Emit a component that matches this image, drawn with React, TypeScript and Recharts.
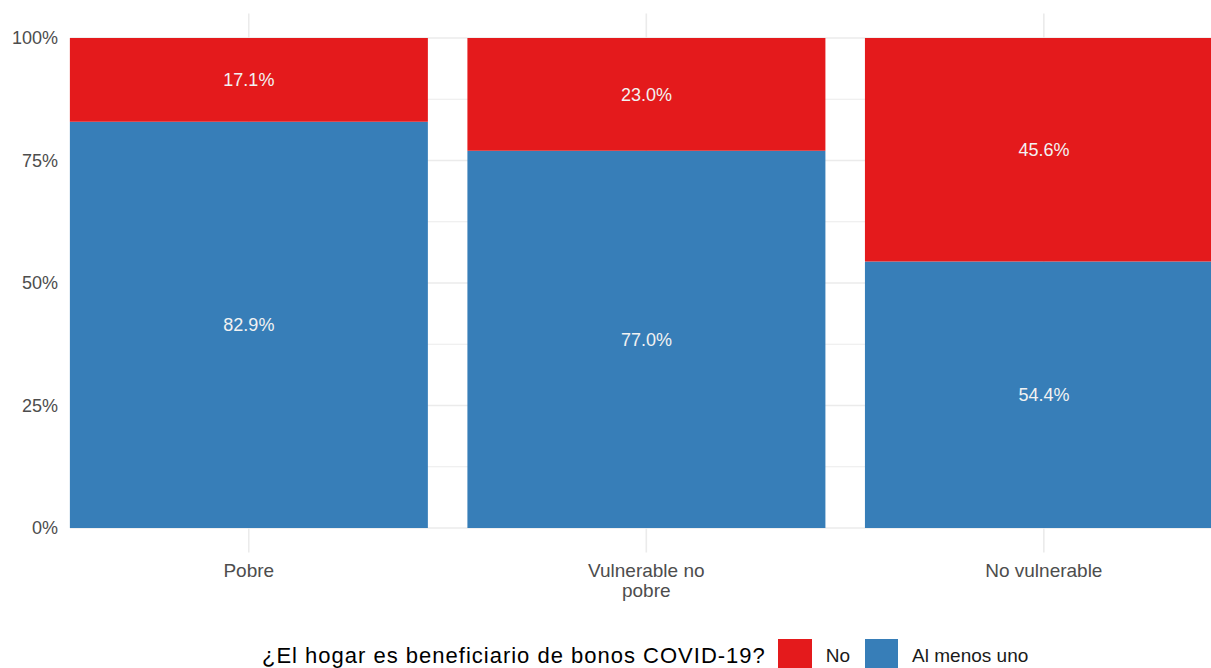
import React from 'react';
import { BarChart, Bar, XAxis, YAxis, CartesianGrid, LabelList, Legend } from 'recharts';

const categories = ['Pobre', 'Vulnerable no\npobre', 'No vulnerable'];
const alMenosUno = [0.829, 0.77, 0.544];
const noValues = [0.171, 0.23, 0.456];
const yTicks = [0, 0.25, 0.5, 0.75, 1];
const minorTicks = [0.125, 0.375, 0.625, 0.875];
const yDomain = [-0.05, 1.05];
const seriesNames = ['No', 'Al menos uno'];
const legendTitle = '¿El hogar es beneficiario de bonos COVID-19?';

const data = categories.map((c, i) => ({ cat: c, uno: alMenosUno[i], no: noValues[i] }));

const FONT = '"Liberation Sans", Arial, Helvetica, sans-serif';
const RED = '#E41A1C';
const BLUE = '#377EB8';
const GRID = '#ebebeb';

const XTick = (props: any) => {
  const { x, y, payload } = props;
  const lines = String(payload.value).split('\n');
  return (
    <text x={x} y={y} textAnchor="middle" fill="#4d4d4d" fontSize={19} fontFamily={FONT}>
      {lines.map((l, i) => (
        <tspan key={i} x={x} dy={i === 0 ? '0.71em' : 20}>
          {l}
        </tspan>
      ))}
    </text>
  );
};

const LegendContent = () => (
  <div style={{ display: 'flex', alignItems: 'center', fontFamily: FONT, height: 34 }}>
    <span style={{ fontSize: 22, letterSpacing: 1, color: '#000', marginRight: 12, whiteSpace: 'nowrap' }}>{legendTitle}</span>
    <span style={{ width: 34, height: 34, background: RED, display: 'inline-block', marginRight: 14 }} />
    <span style={{ fontSize: 19, color: '#1a1a1a', marginRight: 15 }}>{seriesNames[0]}</span>
    <span style={{ width: 33, height: 34, background: BLUE, display: 'inline-block', marginRight: 14 }} />
    <span style={{ fontSize: 19, color: '#1a1a1a', whiteSpace: 'nowrap' }}>{seriesNames[1]}</span>
  </div>
);

const pct = (v: any) => `${(Number(v) * 100).toFixed(1)}%`;

// map a value to pixels with the y axis scale handed over by Recharts
const toPx = (s: any, v: number): number | null => {
  if (!s) return null;
  if (typeof s === 'function') return s(v);
  if (typeof s.map === 'function') return s.map(v);
  if (typeof s.apply === 'function') return s.apply(v);
  return null;
};

const minorCoords = (p: any) => {
  const s = p && p.yAxis ? p.yAxis.scale : null;
  const out = minorTicks.map((t) => toPx(s, t));
  if (out.every((o) => typeof o === 'number' && isFinite(o as number))) return out as number[];
  const off = p.offset;
  return minorTicks.map((t) => off.top + off.height * (1 - (t - yDomain[0]) / (yDomain[1] - yDomain[0])));
};

export default function App() {
  return (
    <div style={{ position: 'absolute', left: 0, top: 0, width: 1211, height: 668, overflow: 'hidden', background: '#fff' }}>
      <BarChart
        width={1211}
        height={668}
        data={data}
        margin={{ top: 13.5, right: 0, bottom: 85.5, left: 0 }}
        barCategoryGap="5%"
      >
        <CartesianGrid stroke={GRID} strokeWidth={1.1} vertical={false} syncWithTicks horizontalCoordinatesGenerator={minorCoords} />
        <CartesianGrid stroke={GRID} strokeWidth={1.6} syncWithTicks />
        <XAxis
          dataKey="cat"
          type="category"
          axisLine={false}
          tickLine={false}
          tickSize={0}
          tickMargin={11}
          height={30}
          padding={{ left: -20, right: -31.6 }}
          tick={<XTick />}
          interval={0}
        />
        <YAxis
          type="number"
          domain={yDomain}
          ticks={yTicks}
          width={70}
          axisLine={false}
          tickLine={false}
          tickSize={0}
          tickMargin={12}
          tickFormatter={(v: number) => `${Math.round(v * 100)}%`}
          tick={{ fill: '#4d4d4d', fontSize: 18, fontFamily: FONT }}
        />
        <Legend
          layout="horizontal"
          verticalAlign="middle"
          align="center"
          wrapperStyle={{ top: 639, left: 262, width: 'auto', height: 34 }}
          content={<LegendContent />}
        />
        <Bar dataKey="uno" stackId="a" fill={BLUE} isAnimationActive={false} name={seriesNames[1]}>
          <LabelList dataKey="uno" position="center" formatter={pct} fill="#f2f2f2" fontSize={18} fontFamily={FONT} />
        </Bar>
        <Bar dataKey="no" stackId="a" fill={RED} isAnimationActive={false} name={seriesNames[0]}>
          <LabelList dataKey="no" position="center" formatter={pct} fill="#f2f2f2" fontSize={18} fontFamily={FONT} />
        </Bar>
      </BarChart>
    </div>
  );
}
